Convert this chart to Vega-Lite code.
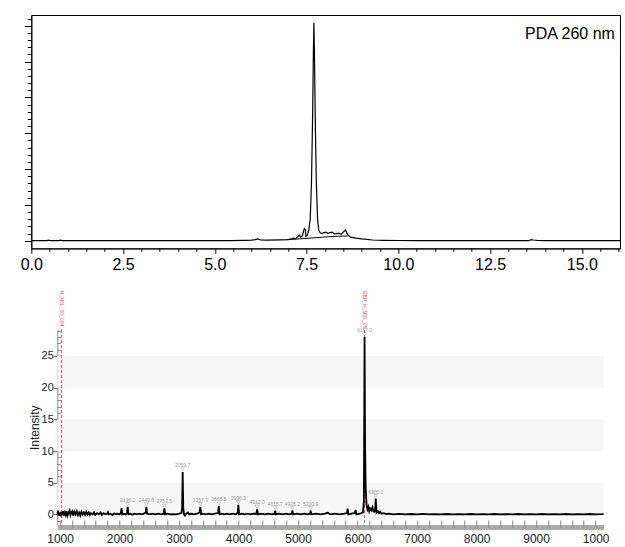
{
  "$schema": "https://vega.github.io/schema/vega-lite/v6.json",
  "padding": {"left": 18.3, "top": 14, "right": 0, "bottom": 0},
  "autosize": {"type": "pad"},
  "spacing": 17,
  "config": {"font": "Liberation Sans", "view": {"stroke": null}},
  "datasets": {
    "trace": [
      {"t":0,"v":0},{"t":0.42,"v":0},{"t":0.47,"v":0.015},{"t":0.52,"v":0},{"t":0.75,"v":0},{"t":0.8,"v":0.015},{"t":0.85,"v":0},
      {"t":5.4,"v":0},{"t":5.8,"v":0.01},{"t":6.0,"v":0.015},{"t":6.1,"v":0.03},{"t":6.17,"v":0.05},{"t":6.25,"v":0.02},{"t":6.4,"v":0.015},
      {"t":6.8,"v":0.025},{"t":7.0,"v":0.03},{"t":7.1,"v":0.05},{"t":7.15,"v":0.07},{"t":7.2,"v":0.05},{"t":7.25,"v":0.1},{"t":7.3,"v":0.16},
      {"t":7.34,"v":0.1},{"t":7.38,"v":0.13},{"t":7.44,"v":0.34},{"t":7.47,"v":0.3},{"t":7.48,"v":0.12},{"t":7.52,"v":0.14},{"t":7.56,"v":0.3},
      {"t":7.6,"v":0.6},{"t":7.635,"v":1.67},{"t":7.665,"v":3.5},{"t":7.685,"v":5.2},{"t":7.7,"v":6.08},{"t":7.715,"v":5.2},{"t":7.735,"v":3.5},
      {"t":7.765,"v":1.67},{"t":7.8,"v":0.6},{"t":7.83,"v":0.3},{"t":7.87,"v":0.22},{"t":7.93,"v":0.2},{"t":7.98,"v":0.23},{"t":8.03,"v":0.24},
      {"t":8.08,"v":0.2},{"t":8.14,"v":0.23},{"t":8.2,"v":0.24},{"t":8.26,"v":0.19},{"t":8.32,"v":0.2},{"t":8.38,"v":0.21},{"t":8.44,"v":0.18},
      {"t":8.5,"v":0.24},{"t":8.56,"v":0.3},{"t":8.62,"v":0.17},{"t":8.7,"v":0.1},{"t":8.85,"v":0.07},{"t":9.0,"v":0.05},{"t":9.3,"v":0.02},
      {"t":9.6,"v":0.01},{"t":10.0,"v":0.005},{"t":10.5,"v":0},{"t":13.55,"v":0},{"t":13.62,"v":0.03},{"t":13.68,"v":0.02},{"t":13.8,"v":0.005},
      {"t":14,"v":0},{"t":16.04,"v":0}
    ],
    "integ": [
      {"t":6.95,"v":0.03},{"t":7.3,"v":0.05},{"t":7.7,"v":0.08},{"t":8.1,"v":0.11},{"t":8.5,"v":0.13},{"t":8.62,"v":0.13}
    ],
    "note": [{"label": "PDA 260 nm"}],
    "bands": [{"lo":0,"hi":5},{"lo":10,"hi":15},{"lo":20,"hi":25}],
    "markers": [{"mz":1025,"name":"H_M0L_00_004"},{"mz":6117,"name":"GBP_H_M0L_05"}],
    "peaks": [
      {"mz":2136.2,"i":1.2,"label":"2136.2"},{"mz":2449.8,"i":1.2,"label":"2449.8"},{"mz":2753.5,"i":0.95,"label":"2753.5"},
      {"mz":3059.7,"i":6.7,"label":"3059.7"},{"mz":3357.3,"i":1.2,"label":"3357.3"},{"mz":3668.5,"i":1.3,"label":"3668.5"},
      {"mz":3996.3,"i":1.5,"label":"3996.3"},{"mz":4312.0,"i":0.8,"label":"4312.0"},{"mz":4615.7,"i":0.6,"label":"4615.7"},
      {"mz":4905.2,"i":0.6,"label":"4905.2"},{"mz":5210.9,"i":0.6,"label":"5210.9"},{"mz":6117.0,"i":28.0,"label":"6117.0"},
      {"mz":6305.1,"i":2.5,"label":"6305.1"}
    ],
    "spec": [
      {"m":955,"i":0.0},{"m":965,"i":0.6},{"m":975,"i":-0.2},{"m":990,"i":0.3},{"m":1005,"i":-0.3},{"m":1020,"i":0.4},{"m":1035,"i":-0.1},
      {"m":1050,"i":0.5},{"m":1065,"i":-0.2},{"m":1080,"i":0.3},{"m":1095,"i":-0.1},{"m":1110,"i":0.5},{"m":1125,"i":-0.2},{"m":1140,"i":0.2},
      {"m":1160,"i":0.6},{"m":1175,"i":-0.1},{"m":1190,"i":0.3},{"m":1205,"i":0.5},{"m":1220,"i":-0.2},{"m":1240,"i":0.4},{"m":1260,"i":0.0},
      {"m":1280,"i":0.5},{"m":1300,"i":-0.1},{"m":1320,"i":0.3},{"m":1340,"i":-0.2},{"m":1360,"i":0.4},{"m":1380,"i":0.0},{"m":1400,"i":0.3},
      {"m":1420,"i":-0.1},{"m":1440,"i":0.4},{"m":1460,"i":0.0},{"m":1480,"i":0.3},{"m":1500,"i":-0.1},{"m":1520,"i":0.2},{"m":1545,"i":0.0},
      {"m":1570,"i":0.3},{"m":1590,"i":-0.1},{"m":1620,"i":0.2},{"m":1650,"i":0.0},{"m":1680,"i":0.3},{"m":1700,"i":-0.1},{"m":1730,"i":0.2},
      {"m":1760,"i":0.0},{"m":1790,"i":0.1},{"m":1805,"i":0.35},{"m":1820,"i":0.0},{"m":1850,"i":0.1},{"m":1880,"i":-0.1},{"m":1910,"i":0.15},
      {"m":1940,"i":0.0},{"m":1970,"i":0.1},{"m":2000,"i":0.0},{"m":2020,"i":0.2},{"m":2033,"i":1.0},{"m":2045,"i":0.0},{"m":2070,"i":0.1},
      {"m":2100,"i":0.0},{"m":2125,"i":0.2},{"m":2136,"i":1.2},{"m":2148,"i":0.0},{"m":2180,"i":0.1},{"m":2210,"i":-0.05},{"m":2250,"i":0.1},
      {"m":2290,"i":0.0},{"m":2330,"i":0.1},{"m":2370,"i":0.0},{"m":2410,"i":0.1},{"m":2438,"i":0.3},{"m":2450,"i":1.2},{"m":2462,"i":0.1},
      {"m":2500,"i":0.0},{"m":2550,"i":0.1},{"m":2600,"i":0.0},{"m":2650,"i":0.1},{"m":2700,"i":0.0},{"m":2740,"i":0.1},{"m":2753,"i":0.95},
      {"m":2765,"i":0.0},{"m":2800,"i":0.1},{"m":2850,"i":0.0},{"m":2900,"i":0.05},{"m":2950,"i":0.0},{"m":3000,"i":0.1},{"m":3040,"i":0.2},
      {"m":3050,"i":1.0},{"m":3060,"i":6.7},{"m":3070,"i":1.0},{"m":3082,"i":0.0},{"m":3100,"i":-0.2},{"m":3120,"i":0.1},{"m":3150,"i":0.3},
      {"m":3170,"i":0.0},{"m":3200,"i":0.1},{"m":3250,"i":0.0},{"m":3300,"i":0.1},{"m":3345,"i":0.3},{"m":3357,"i":1.2},{"m":3369,"i":0.0},
      {"m":3400,"i":0.1},{"m":3450,"i":0.0},{"m":3500,"i":0.1},{"m":3550,"i":0.0},{"m":3600,"i":0.1},{"m":3655,"i":0.2},{"m":3668,"i":1.3},
      {"m":3680,"i":0.0},{"m":3720,"i":0.1},{"m":3760,"i":0.0},{"m":3800,"i":0.1},{"m":3850,"i":0.0},{"m":3900,"i":0.1},{"m":3950,"i":0.0},
      {"m":3984,"i":0.2},{"m":3996,"i":1.5},{"m":4008,"i":0.0},{"m":4050,"i":0.1},{"m":4100,"i":0.0},{"m":4150,"i":0.1},{"m":4200,"i":0.0},
      {"m":4250,"i":0.1},{"m":4300,"i":0.1},{"m":4312,"i":0.8},{"m":4324,"i":0.0},{"m":4380,"i":0.1},{"m":4440,"i":0.0},{"m":4500,"i":0.1},
      {"m":4560,"i":0.0},{"m":4604,"i":0.1},{"m":4615,"i":0.6},{"m":4627,"i":0.0},{"m":4680,"i":0.1},{"m":4740,"i":0.0},{"m":4800,"i":0.1},
      {"m":4850,"i":0.0},{"m":4893,"i":0.1},{"m":4905,"i":0.6},{"m":4917,"i":0.0},{"m":4980,"i":0.1},{"m":5040,"i":0.0},{"m":5100,"i":0.1},
      {"m":5160,"i":0.0},{"m":5199,"i":0.1},{"m":5211,"i":0.6},{"m":5223,"i":0.0},{"m":5300,"i":0.1},{"m":5380,"i":0.0},{"m":5450,"i":0.1},
      {"m":5500,"i":0.25},{"m":5540,"i":0.0},{"m":5620,"i":0.1},{"m":5700,"i":0.0},{"m":5780,"i":0.1},{"m":5820,"i":0.2},{"m":5833,"i":0.9},
      {"m":5845,"i":0.0},{"m":5900,"i":0.1},{"m":5950,"i":0.2},{"m":5967,"i":0.7},{"m":5980,"i":0.0},{"m":6040,"i":0.1},{"m":6090,"i":0.3},
      {"m":6105,"i":2.0},{"m":6117,"i":28.0},{"m":6125,"i":12.0},{"m":6135,"i":4.4},{"m":6150,"i":1.5},{"m":6165,"i":0.8},{"m":6180,"i":1.2},
      {"m":6195,"i":0.5},{"m":6210,"i":0.9},{"m":6230,"i":0.6},{"m":6250,"i":1.1},{"m":6265,"i":0.5},{"m":6280,"i":0.4},{"m":6293,"i":0.6},
      {"m":6305,"i":2.5},{"m":6317,"i":0.3},{"m":6340,"i":0.5},{"m":6360,"i":0.2},{"m":6380,"i":0.4},{"m":6400,"i":0.1},{"m":6440,"i":0.2},
      {"m":6480,"i":0.05},{"m":6520,"i":0.1},{"m":6600,"i":0.0},{"m":6700,"i":0.08},{"m":6800,"i":0.0},{"m":6900,"i":0.06},{"m":7000,"i":0.0},
      {"m":7100,"i":0.07},{"m":7200,"i":0.0},{"m":7300,"i":0.05},{"m":7400,"i":0.0},{"m":7500,"i":0.06},{"m":7600,"i":0.0},{"m":7700,"i":0.05},
      {"m":7800,"i":0.0},{"m":7900,"i":0.06},{"m":8000,"i":0.0},{"m":8100,"i":0.05},{"m":8200,"i":0.0},{"m":8300,"i":0.06},{"m":8400,"i":0.0},
      {"m":8500,"i":0.05},{"m":8600,"i":0.0},{"m":8700,"i":0.06},{"m":8800,"i":0.0},{"m":8900,"i":0.05},{"m":9000,"i":0.0},{"m":9100,"i":0.06},
      {"m":9200,"i":0.0},{"m":9300,"i":0.05},{"m":9400,"i":0.0},{"m":9500,"i":0.06},{"m":9600,"i":0.0},{"m":9700,"i":0.05},{"m":9800,"i":0.0},
      {"m":9900,"i":0.06},{"m":10000,"i":0.0},{"m":10134,"i":0.05}
    ]
  },
  "vconcat": [
    {
      "spacing": 0,
      "hconcat": [
        {
          "width": 1,
          "height": 1,
          "data": {"values": []},
          "mark": "point"
        },
        {
          "width": 588.7,
          "height": 233.4,
          "view": {"stroke": "black", "strokeWidth": 1},
          "resolve": {"axis": {"x": "independent", "y": "independent"}},
          "layer": [
            {
              "data": {"name": "trace"},
              "mark": {"type": "line", "color": "black", "strokeWidth": 1.2},
              "encoding": {
                "x": {
                  "field": "t", "type": "quantitative",
                  "scale": {"domain": [0, 16.04], "nice": false, "zero": false},
                  "axis": {
                    "orient": "bottom", "title": null, "grid": false,
                    "values": [0, 2.5, 5, 7.5, 10, 12.5, 15],
                    "format": ".1f",
                    "labelFlush": false, "labelOverlap": false,
                    "labelFontSize": 16, "labelColor": "black", "labelFont": "Liberation Sans",
                    "labelPadding": 3, "labelDx": 4,
                    "tickSize": 5, "tickColor": "black", "domainColor": "black", "domainWidth": 1
                  }
                },
                "y": {
                  "field": "v", "type": "quantitative",
                  "scale": {"domain": [-0.215, 6.3], "nice": false, "zero": false},
                  "axis": {
                    "orient": "left", "title": null, "grid": false, "labels": false,
                    "values": [0, 1, 2, 3, 4, 5, 6],
                    "tickSize": 7, "tickColor": "black", "domainColor": "black", "domainWidth": 1
                  }
                }
              }
            },
            {
              "data": {"name": "integ"},
              "mark": {"type": "line", "color": "black", "strokeWidth": 1, "interpolate": "monotone"},
              "encoding": {
                "x": {
                  "field": "t", "type": "quantitative",
                  "axis": {
                    "orient": "bottom", "title": null, "grid": false, "labels": false, "domain": false,
                    "values": [0.5,1,1.5,2,3,3.5,4,4.5,5.5,6,6.5,7,8,8.5,9,9.5,10.5,11,11.5,12,13,13.5,14,14.5,15.5,16],
                    "tickSize": 3, "tickColor": "black"
                  }
                },
                "y": {
                  "field": "v", "type": "quantitative",
                  "axis": {
                    "orient": "left", "title": null, "grid": false, "labels": false, "domain": false,
                    "values": [0.2,0.4,0.6,0.8,1.2,1.4,1.6,1.8,2.2,2.4,2.6,2.8,3.2,3.4,3.6,3.8,4.2,4.4,4.6,4.8,5.2,5.4,5.6,5.8,6.2],
                    "tickSize": 4, "tickColor": "black"
                  }
                }
              }
            },
            {
              "data": {"name": "note"},
              "mark": {"type": "text", "align": "right", "baseline": "middle", "fontSize": 16, "font": "Liberation Sans", "color": "black"},
              "encoding": {
                "x": {"datum": 15.9, "type": "quantitative", "axis": null},
                "y": {"datum": 5.78, "type": "quantitative", "axis": null},
                "text": {"field": "label"}
              }
            }
          ]
        }
      ]
    },
    {
      "spacing": 0,
      "hconcat": [
        {
          "width": 8.7,
          "height": 1,
          "data": {"values": []},
          "mark": "point"
        },
        {
          "width": 546.3,
          "height": 194.5,
          "resolve": {"axis": {"x": "independent", "y": "independent"}},
          "layer": [
            {
              "data": {"name": "bands"},
              "mark": {"type": "rect", "color": "#f6f6f6"},
              "encoding": {
                "y": {
                  "field": "lo", "type": "quantitative",
                  "scale": {"domain": [-1.6, 29.1], "nice": false, "zero": false},
                  "axis": {
                    "orient": "left",
                    "title": "Intensity", "titleFontSize": 12, "titleFontWeight": "normal", "titleColor": "#222", "titleFont": "Liberation Sans",
                    "titlePadding": 0, "grid": false,
                    "values": [0, 5, 10, 15, 20, 25],
                    "labelOverlap": false, "labelFontSize": 11, "labelColor": "#222", "labelPadding": 0,
                    "tickSize": 4, "tickColor": "#666", "domainColor": "#888", "domainWidth": 1
                  }
                },
                "y2": {"field": "hi"}
              }
            },
            {
              "data": {"name": "markers"},
              "mark": {"type": "rule", "color": "#e5484d", "strokeDash": [3, 2], "strokeWidth": 1},
              "encoding": {
                "x": {"field": "mz", "type": "quantitative", "axis": null}
              }
            },
            {
              "data": {"name": "spec"},
              "mark": {"type": "line", "color": "black", "strokeWidth": 1.8},
              "encoding": {
                "x": {
                  "field": "m", "type": "quantitative",
                  "scale": {"domain": [953, 10134], "nice": false, "zero": false},
                  "axis": {
                    "orient": "bottom", "title": null, "grid": false, "format": "d",
                    "values": [1000,2000,3000,4000,5000,6000,7000,8000,9000,10000],
                    "labelExpr": "datum.value === 10000 ? '1000' : datum.label",
                    "labelFlush": false, "labelOverlap": false,
                    "labelFontSize": 12, "labelColor": "#222", "labelPadding": 6.5,
                    "offset": 2.5, "ticks": false,
                    "domainColor": "#aaaaaa", "domainWidth": 5
                  }
                },
                "y": {"field": "i", "type": "quantitative", "axis": null}
              }
            },
            {
              "data": {"name": "peaks"},
              "mark": {"type": "point", "shape": "triangle-down", "filled": false, "size": 14, "color": "#999", "strokeWidth": 0.6, "yOffset": -2.5},
              "encoding": {
                "x": {
                  "field": "mz", "type": "quantitative",
                  "axis": {
                    "orient": "bottom", "title": null, "grid": false, "labels": false, "domain": false,
                    "values": [1000,1200,1400,1600,1800,2000,2200,2400,2600,2800,3000,3200,3400,3600,3800,4000,4200,4400,4600,4800,5000,5200,5400,5600,5800,6000,6200,6400,6600,6800,7000,7200,7400,7600,7800,8000,8200,8400,8600,8800,9000,9200,9400,9600,9800,10000],
                    "offset": 2.5, "tickSize": -7, "tickColor": "#888"
                  }
                },
                "y": {
                  "field": "i", "type": "quantitative",
                  "axis": {
                    "orient": "left", "title": null, "grid": false, "labels": false, "domain": false,
                    "values": [-1,1,2,3,4,6,7,8,9,11,12,13,14,16,17,18,19,21,22,23,24,26,27,28,29],
                    "tickSize": -3, "tickColor": "#888"
                  }
                }
              }
            },
            {
              "data": {"name": "peaks"},
              "mark": {"type": "text", "fontSize": 5, "color": "#9a9a9a", "baseline": "middle", "dy": -7},
              "encoding": {
                "x": {"field": "mz", "type": "quantitative", "axis": null},
                "y": {"field": "i", "type": "quantitative", "axis": null},
                "text": {"field": "label"}
              }
            },
            {
              "data": {"name": "markers"},
              "mark": {"type": "text", "angle": 90, "align": "left", "baseline": "middle", "fontSize": 5, "color": "#e5484d"},
              "encoding": {
                "x": {"field": "mz", "type": "quantitative", "axis": null},
                "y": {"datum": 35.3, "type": "quantitative", "axis": null},
                "text": {"field": "name"}
              }
            }
          ]
        }
      ]
    }
  ]
}
